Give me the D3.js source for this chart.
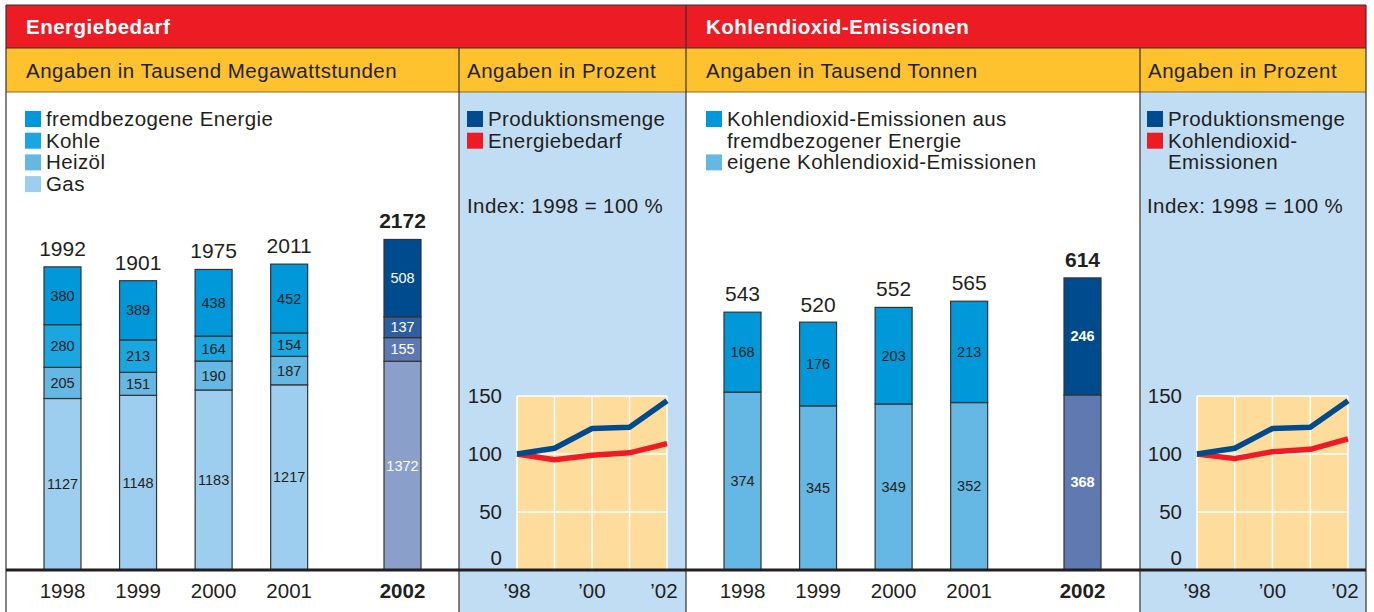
<!DOCTYPE html>
<html>
<head>
<meta charset="utf-8">
<script src="https://cdn.jsdelivr.net/npm/d3@7"></script>
<style>
  body { margin: 0; background: white; }
  svg text { font-family: "Liberation Sans", Arial, Helvetica, sans-serif; }
</style>
</head>
<body>
<div id="container"></div>
<script>
let w = 1374;
let h = 612;

// DATA
let years = ["1998", "1999", "2000", "2001", "2002"];

let energyLegend = ["fremdbezogene Energie", "Kohle", "Heizöl", "Gas"];
let energyGas = [1127, 1148, 1183, 1217, 1372];
let energyOil = [205, 151, 190, 187, 155];
let energyCoal = [280, 213, 164, 154, 137];
let energyExternal = [380, 389, 438, 452, 508];
let energyTotals = [1992, 1901, 1975, 2011, 2172];

let co2Legend = ["Kohlendioxid-Emissionen aus", "fremdbezogener Energie", "eigene Kohlendioxid-Emissionen"];
let co2Own = [374, 345, 349, 352, 368];
let co2External = [168, 176, 203, 213, 246];
let co2Totals = [543, 520, 552, 565, 614];

let productionIndex = [100, 105, 122, 123, 146];
let energyIndex = [100, 95, 99, 101, 109];
let co2Index = [100, 96, 102, 104, 113];
let indexTicks = [0, 50, 100, 150];
let indexYearTicks = [1998, 2000, 2002];
let indexYearLabels = ["’98", "’00", "’02"];

// LAYOUT
let leftX = 6, rightX = 1366;
let topY = 5, redBottom = 48, yellowBottom = 92, baseY = 570;
let split1 = 459, split2 = 686, split3 = 1140;

let red = "#ed1c24", yellow = "#fec22e", paleBlue = "#c0ddf3", beige = "#fedd9c";
let navy = "#004a8e", ink = "#231f20", edge = "#333";

let viz = d3.select("#container").append("svg")
    .attr("width", w)
    .attr("height", h)
    .style("display", "block");

function label(g, str, x, y, size, opts) {
  opts = opts || {};
  return g.append("text")
    .text(str)
    .attr("x", x)
    .attr("y", y)
    .attr("font-size", size)
    .attr("font-weight", opts.bold ? "bold" : "normal")
    .attr("text-anchor", opts.anchor || "start")
    .attr("fill", opts.fill || ink)
    .style("letter-spacing", (opts.spacing || 0) + "px");
}

// PANEL BACKGROUNDS
viz.append("rect").attr("x", leftX).attr("y", yellowBottom).attr("width", split1 - leftX).attr("height", h).attr("fill", "white");
viz.append("rect").attr("x", split1).attr("y", yellowBottom).attr("width", split2 - split1).attr("height", h).attr("fill", paleBlue);
viz.append("rect").attr("x", split2).attr("y", yellowBottom).attr("width", split3 - split2).attr("height", h).attr("fill", "white");
viz.append("rect").attr("x", split3).attr("y", yellowBottom).attr("width", rightX - split3).attr("height", h).attr("fill", paleBlue);

// HEADERS
viz.append("rect").attr("x", leftX).attr("y", topY).attr("width", rightX - leftX).attr("height", redBottom - topY).attr("fill", red);
viz.append("rect").attr("x", leftX).attr("y", redBottom).attr("width", rightX - leftX).attr("height", yellowBottom - redBottom).attr("fill", yellow);

label(viz, "Energiebedarf", 26, 34, 20.5, {bold: true, fill: "white", spacing: 0.5});
label(viz, "Kohlendioxid-Emissionen", 706, 34, 20.5, {bold: true, fill: "white", spacing: 0.5});
label(viz, "Angaben in Tausend Megawattstunden", 26, 78, 20.5, {spacing: 0.5});
label(viz, "Angaben in Prozent", 467, 78, 20.5, {spacing: 0.5});
label(viz, "Angaben in Tausend Tonnen", 706, 78, 20.5, {spacing: 0.5});
label(viz, "Angaben in Prozent", 1148, 78, 20.5, {spacing: 0.5});

// FRAME LINES
let frame = viz.append("g").attr("stroke", edge).attr("stroke-width", 1.2);
frame.append("line").attr("x1", leftX).attr("x2", rightX).attr("y1", topY).attr("y2", topY);
frame.append("line").attr("x1", leftX).attr("x2", rightX).attr("y1", redBottom).attr("y2", redBottom);
frame.append("line").attr("x1", leftX).attr("x2", rightX).attr("y1", yellowBottom).attr("y2", yellowBottom).attr("stroke", "#8a6d2a");
[leftX, split2, rightX].forEach(function(x){
  frame.append("line").attr("x1", x).attr("x2", x).attr("y1", topY).attr("y2", h);
});
[split1, split3].forEach(function(x){
  frame.append("line").attr("x1", x).attr("x2", x).attr("y1", redBottom).attr("y2", h);
});

// LEGENDS
function legend(x, rows) {
  let g = viz.append("g");
  rows.forEach(function(r, i){
    let y = 111 + i * 21.7;
    if (r.color) {
      g.append("rect").attr("x", x).attr("y", y).attr("width", 16).attr("height", 16).attr("fill", r.color);
    }
    label(g, r.text, x + 21, y + 15, 20.5, {spacing: 0.4});
  });
}

let energyColors = {external: "#0098d8", coal: "#1aa6e0", oil: "#65b7e4", gas: "#9dceef"};
let energyHiColors = {external: "#004a8e", coal: "#2d5e9f", oil: "#5e78b3", gas: "#8b9fcb"};
let co2Colors = {external: "#0098d8", own: "#65b7e4"};
let co2HiColors = {external: "#004a8e", own: "#6079b1"};

legend(25, [
  {text: energyLegend[0], color: energyColors.external},
  {text: energyLegend[1], color: energyColors.coal},
  {text: energyLegend[2], color: energyColors.oil},
  {text: energyLegend[3], color: energyColors.gas}
]);
legend(706, [
  {text: co2Legend[0], color: co2Colors.external},
  {text: co2Legend[1]},
  {text: co2Legend[2], color: co2Colors.own}
]);
legend(467, [
  {text: "Produktionsmenge", color: navy},
  {text: "Energiebedarf", color: red}
]);
legend(1147, [
  {text: "Produktionsmenge", color: navy},
  {text: "Kohlendioxid-", color: red},
  {text: "Emissionen"}
]);
label(viz, "Index: 1998 = 100 %", 467, 213, 20.5, {spacing: 0.4});
label(viz, "Index: 1998 = 100 %", 1147, 213, 20.5, {spacing: 0.4});

// STACKED BARS
function drawBars(x0, rows, keys, colors, hiColors, yScale, totals, hiBold) {
  let g = viz.append("g");
  let last = rows.length - 1;
  // the last year stands a bit apart from the others
  let slot = d3.scaleLinear().domain([0, 4.5]).range([x0 + 56.5, x0 + 396.5]);
  let xPos = function(i){ return slot(i == last ? i + 0.5 : i); };
  let barW = 37;
  let series = d3.stack().keys(keys)(rows);

  series.forEach(function(s){
    s.forEach(function(d, i){
      let hi = i == last;
      let y1 = yScale(d[1]), y0 = yScale(d[0]);
      g.append("rect")
        .attr("x", xPos(i) - barW / 2)
        .attr("y", y1)
        .attr("width", barW)
        .attr("height", y0 - y1)
        .attr("fill", hi ? hiColors[s.key] : colors[s.key])
        .attr("stroke", edge)
        .attr("stroke-width", 1.2);
      label(g, d.data[s.key], xPos(i), (y0 + y1) / 2 + 5, 14.5, {
        anchor: "middle",
        fill: hi ? "white" : ink,
        bold: hi && hiBold
      });
    });
  });

  rows.forEach(function(d, i){
    let hi = i == last;
    label(g, totals[i], xPos(i), yScale(totals[i]) - 11, 21, {anchor: "middle", bold: hi});
    label(g, d.year, xPos(i), 598, 20.5, {anchor: "middle", bold: hi});
  });
}

let energyRows = years.map(function(y, i){
  return {year: y, gas: energyGas[i], oil: energyOil[i], coal: energyCoal[i], external: energyExternal[i]};
});
let co2Rows = years.map(function(y, i){
  return {year: y, own: co2Own[i], external: co2External[i]};
});

let energyY = d3.scaleLinear().domain([0, 2300]).range([baseY, baseY - 350]);
let co2Y = d3.scaleLinear().domain([0, 700]).range([baseY, baseY - 333]);

drawBars(leftX, energyRows, ["gas", "oil", "coal", "external"], energyColors, energyHiColors, energyY, energyTotals, false);
drawBars(split2, co2Rows, ["own", "external"], co2Colors, co2HiColors, co2Y, co2Totals, true);

// INDEX LINE CHARTS
function drawIndex(xa, xb, lines) {
  let g = viz.append("g");
  let yrs = years.map(Number);
  let x = d3.scaleLinear().domain([yrs[0], yrs[yrs.length - 1]]).range([xa, xb]);
  let y = d3.scaleLinear().domain([0, 150]).range([baseY, 396]);

  g.append("rect").attr("x", xa).attr("y", y(150)).attr("width", xb - xa).attr("height", y(0) - y(150)).attr("fill", beige);
  yrs.forEach(function(yr){
    g.append("line").attr("x1", x(yr)).attr("x2", x(yr)).attr("y1", y(150)).attr("y2", y(0))
      .attr("stroke", "white").attr("stroke-width", 1.5);
  });
  indexTicks.forEach(function(t){
    if (t > 0) {
      g.append("line").attr("x1", xa).attr("x2", xb).attr("y1", y(t)).attr("y2", y(t))
        .attr("stroke", "white").attr("stroke-width", 1.5);
    }
    label(g, t, xa - 15, y(t) + 7 - (t == 0 ? 12 : 0), 20.5, {anchor: "end"});
  });
  indexYearTicks.forEach(function(t, i){
    label(g, indexYearLabels[i], x(t) - (i == indexYearTicks.length - 1 ? 3 : 0), 598, 20.5, {anchor: "middle"});
  });

  let lineMaker = d3.line()
    .x(function(d, i){ return x(yrs[i]); })
    .y(function(d){ return y(d); });

  lines.forEach(function(l){
    g.append("path")
      .attr("d", lineMaker(l.values))
      .attr("fill", "none")
      .attr("stroke", l.color)
      .attr("stroke-width", 5.5)
      .attr("stroke-linejoin", "round");
  });
}

drawIndex(517, 667, [{values: energyIndex, color: red}, {values: productionIndex, color: navy}]);
drawIndex(1197, 1348, [{values: co2Index, color: red}, {values: productionIndex, color: navy}]);

// BASELINE
viz.append("line")
  .attr("x1", leftX).attr("x2", rightX)
  .attr("y1", baseY).attr("y2", baseY)
  .attr("stroke", ink)
  .attr("stroke-width", 3);
</script>
</body>
</html>
